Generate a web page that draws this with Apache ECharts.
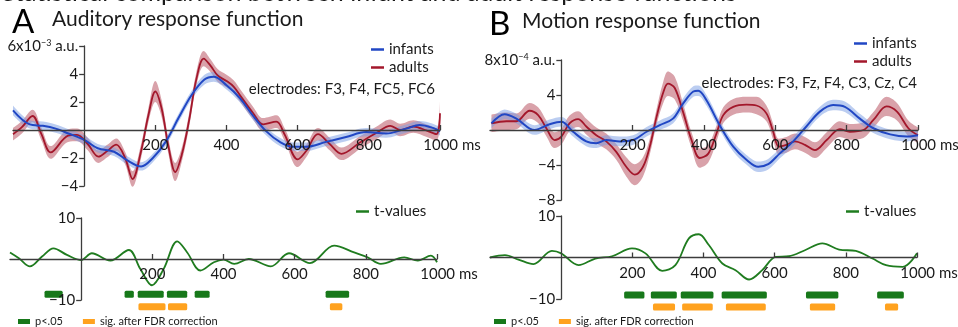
<!DOCTYPE html>
<html>
<head>
<meta charset="utf-8">
<title>Statistical comparison between infant and adult response functions</title>
<script src="https://cdn.jsdelivr.net/npm/echarts@6/dist/echarts.min.js"></script>
<style>
  html, body { margin: 0; padding: 0; background: #fff; }
  #chart { width: 958px; height: 327px; }
</style>
</head>
<body>
<div id="chart"></div>
<script>
// x tick labels (ms), shared by all panels
const msTicks = [200, 400, 600, 800, 1000]
const audTicks = [-4, -2, 2, 4, 6]
const motTicks = [-8, -4, 4, 8]
const tTicks = [-10, 10]

// A: auditory response function, adults (x10^-3 a.u.)
const audAdultMs = [-200, -175, -145, -120, -94, -45, -20, 10, 40, 65, 90, 115, 136, 160, 180, 200, 218, 237, 256, 275, 295, 315, 336, 355, 375, 400, 420, 440, 475, 503, 540, 563, 600, 624, 657, 690, 723, 775, 822, 860, 888, 925, 963, 990, 1000]
const audAdultVal = [-0.3, 0.2, 1.0, -0.3, -1.6, -0.4, -0.35, -1.0, -1.9, -1.5, -1.05, -2.0, -3.5, -1.5, 1.0, 2.75, 1.5, -1.2, -3.0, -1.7, 0.7, 3.6, 5.1, 4.6, 3.9, 3.5, 3.1, 2.4, 1.2, 0.4, 0.6, -0.3, -2.1, -1.5, -0.3, -1.0, -1.7, -0.9, -0.2, 0.3, 0.0, 0.25, -0.05, -0.3, 1.2]
const audAdultSe = [0.45, 0.45, 0.45, 0.45, 0.45, 0.45, 0.45, 0.45, 0.45, 0.45, 0.45, 0.45, 0.55, 0.5, 0.5, 0.75, 0.6, 0.55, 0.65, 0.5, 0.5, 0.5, 0.55, 0.45, 0.45, 0.45, 0.45, 0.45, 0.45, 0.45, 0.45, 0.45, 0.55, 0.45, 0.45, 0.45, 0.45, 0.45, 0.45, 0.45, 0.45, 0.45, 0.45, 0.45, 0.9]

// A: infants
const audInfMs = [-200, -153, -116, -80, -44, 0, 38, 84, 120, 160, 193, 229, 265, 302, 338, 364, 400, 437, 475, 512, 550, 587, 624, 680, 736, 792, 848, 905, 942, 980, 1000]
const audInfVal = [1.4, 0.4, 0.3, 0.1, -0.25, -0.7, -1.3, -1.55, -2.15, -2.6, -2.0, -0.85, 0.85, 2.5, 3.6, 3.8, 3.2, 2.3, 1.0, -0.1, -0.85, -1.2, -1.2, -0.85, -0.5, -0.15, -0.25, 0.1, 0.35, 0.15, -0.1]
const audInfSe = [0.35, 0.3, 0.3, 0.3, 0.3, 0.3, 0.3, 0.3, 0.3, 0.3, 0.3, 0.3, 0.3, 0.3, 0.35, 0.35, 0.3, 0.3, 0.3, 0.3, 0.3, 0.3, 0.3, 0.3, 0.3, 0.3, 0.3, 0.3, 0.3, 0.3, 0.3]

// A: t-values
const audTMs = [-200, -175, -144, -110, -78, -40, 0, 30, 82, 134, 166, 199, 232, 270, 298, 335, 373, 400, 430, 471, 533, 584, 643, 711, 767, 805, 842, 908, 946, 983, 1000]
const audTVal = [1.6, 0.2, -1.8, 0.6, 2.6, 1.0, -0.25, 1.4, -0.4, 2.2, -2.4, -6.4, -2.4, 4.3, 1.6, -2.8, -0.8, -0.15, -1.2, 0, -1.8, 1.4, -1.0, 3.25, 1.6, 0.4, -1.2, 0.4, -0.4, 0.8, -0.8]

// A: significant windows (ms)
const audSig = [[-103, -52], [122, 148], [159, 232], [241, 298], [319, 361], [687, 753]]
const audFdr = [[161, 237], [244, 298], [699, 734]]

// B: motion response function, adults (x10^-4 a.u.)
const motAdultMs = [-196, -154, -126, -89, -65, -42, -19, 0, 23, 47, 70, 98, 126, 154, 182, 206, 229, 248, 267, 285, 299, 318, 341, 365, 388, 412, 435, 454, 482, 519, 547, 575, 594, 610, 631, 655, 683, 711, 744, 781, 809, 847, 875, 912, 941, 973, 1000]
const motAdultVal = [0.75, 1.0, 1.0, 2.2, 1.7, 0.2, -1.15, -0.75, 0.75, 1.25, 0.4, -0.6, -1.3, -2.5, -4.2, -5.1, -4.2, -1.9, 1.5, 4.2, 5.3, 4.8, 2.1, -1.15, -3.2, -2.7, -0.4, 1.7, 2.65, 2.9, 2.8, 1.9, -0.2, -1.9, -1.7, -1.3, -1.7, -2.3, -1.15, 0.1, -0.2, 0.0, 1.15, 2.7, 2.1, 0.2, -0.6]
const motAdultSe = [1.0, 1.0, 0.9, 0.9, 0.9, 0.9, 0.9, 0.9, 0.9, 0.9, 0.9, 0.9, 0.9, 0.9, 1.1, 1.2, 1.1, 0.9, 0.9, 1.2, 1.4, 1.3, 1.0, 0.9, 1.1, 1.0, 0.9, 0.9, 0.9, 0.9, 1.0, 0.9, 0.9, 0.9, 0.9, 0.9, 0.9, 0.9, 0.9, 0.9, 0.9, 0.9, 0.9, 1.1, 1.0, 0.9, 0.9]

// B: infants
const motInfMs = [-196, -159, -126, -75, -33, 0, 33, 70, 98, 126, 164, 201, 239, 276, 313, 341, 370, 384, 407, 444, 482, 519, 552, 580, 612, 650, 687, 725, 762, 795, 837, 875, 922, 969, 1000]
const motInfVal = [0.75, 1.8, 1.3, 0, 0.65, 0.95, -0.2, -1.3, -1.5, -1.15, -1.3, -1.15, -0.2, 0.55, 1.3, 3.0, 4.4, 4.5, 3.4, 0.55, -1.9, -3.4, -4.2, -3.9, -2.7, -1.3, 0.4, 2.1, 2.85, 2.65, 1.3, 0.2, -0.5, -0.75, -0.6]
const motInfSe = [0.55, 0.55, 0.55, 0.55, 0.55, 0.55, 0.55, 0.55, 0.55, 0.55, 0.55, 0.55, 0.55, 0.55, 0.55, 0.6, 0.6, 0.6, 0.6, 0.55, 0.55, 0.55, 0.6, 0.6, 0.55, 0.55, 0.55, 0.55, 0.6, 0.6, 0.55, 0.55, 0.55, 0.55, 0.55]

// B: t-values
const motTMs = [-200, -158, -120, -78, -26, 0, 49, 96, 143, 199, 237, 284, 321, 359, 387, 415, 453, 490, 528, 565, 603, 640, 685, 734, 781, 828, 875, 913, 960, 1000]
const motTVal = [0, 0.55, -0.5, -1.6, 1.6, 1.0, -1.85, -0.25, 0.3, 2.2, 1.0, -3.2, -1.85, 4.6, 5.6, 3.0, -1.45, -3.05, -5.3, -3.05, 0.16, 0.3, 1.75, 3.4, 1.9, 1.6, -0.25, -1.85, -2.25, 1.0]

// B: significant windows (ms)
const motSig = [[177, 234], [252, 325], [336, 428], [451, 578], [688, 779], [888, 963]]
const motFdr = [[258, 320], [340, 426], [463, 575], [699, 770], [910, 947]]

const sigRows = ['sig. after FDR correction', 'p<.05']

const font = 'Lato, "Open Sans", sans-serif'
const axisColor = '#3c3c3c'
const textColor = '#1a1a1a'
const colors = {
  adults: '#a3172b',
  adultsBand: '#d9a2aa',
  infants: '#2147c4',
  infantsBand: 'rgba(120, 155, 228, 0.5)',
  t: '#1f7c1f',
  sig: '#17781a',
  fdr: '#ffa21f'
}

const msMin = -200
const msMax = 1000
const grids = [
  { left: 13, top: 46, width: 427, height: 140 },
  { left: 490, top: 60, width: 428, height: 140 },
  { left: 10, top: 218, width: 427, height: 82 },
  { left: 490, top: 216, width: 427, height: 83 },
  { left: 10, top: 288, width: 427, height: 25 },
  { left: 490, top: 289, width: 427, height: 24 }
]

function minus (v) {
  return v < 0 ? '\u2212' + Math.abs(v) : String(v)
}

function pairs (xs, ys) {
  return xs.map((x, i) => [x, ys[i]])
}

// axes cross at (0 ms, 0): shift them from the grid edges
function xAxisFor (gridIndex, yMin, yMax) {
  const g = grids[gridIndex]
  return {
    type: 'value',
    gridIndex: gridIndex,
    z: 10,
    min: msMin,
    max: msMax,
    position: 'bottom',
    offset: -g.height * (0 - yMin) / (yMax - yMin),
    axisLine: { onZero: false, lineStyle: { color: axisColor, width: 1.3 } },
    axisTick: { inside: true, length: 5, customValues: msTicks, lineStyle: { color: axisColor, width: 1.3 } },
    axisLabel: {
      customValues: msTicks,
      margin: 8,
      fontSize: 15,
      fontFamily: font,
      color: textColor,
      formatter: v => v === 1000 ? '{pad|}1000 ms' : String(v),
      rich: { pad: { width: 24 } }
    },
    splitLine: { show: false }
  }
}

function yAxisFor (gridIndex, min, max, ticks, unitLabel) {
  const g = grids[gridIndex]
  return {
    type: 'value',
    gridIndex: gridIndex,
    z: 10,
    min: min,
    max: max,
    position: 'left',
    offset: -g.width * (0 - msMin) / (msMax - msMin),
    axisLine: { onZero: false, lineStyle: { color: axisColor, width: 1.3 } },
    axisTick: { length: 5, customValues: ticks, lineStyle: { color: axisColor, width: 1.3 } },
    axisLabel: {
      customValues: ticks,
      margin: 6,
      fontSize: 15,
      fontFamily: font,
      color: textColor,
      formatter: v => (v === max && unitLabel) ? unitLabel : minus(v),
      rich: { s: { fontSize: 9, verticalAlign: 'top', fontFamily: font, color: textColor } }
    },
    splitLine: { show: false }
  }
}

function sigAxes (gridIndex) {
  return [
    { type: 'value', gridIndex: gridIndex, min: msMin, max: msMax, show: false },
    { type: 'category', gridIndex: gridIndex, data: sigRows, show: false }
  ]
}

// two stacked series: invisible lower edge + filled band thickness
// (value first so the stack runs on y)
function bandSeries (name, axisIndex, xs, ys, se, color) {
  const base = {
    type: 'line',
    xAxisIndex: axisIndex,
    yAxisIndex: axisIndex,
    stack: name,
    stackStrategy: 'all',
    smooth: 0.35,
    symbol: 'none',
    silent: true,
    encode: { x: 1, y: 0 },
    lineStyle: { opacity: 0 }
  }
  return [
    Object.assign({}, base, { name: name + ' lo', data: xs.map((x, i) => [ys[i] - se[i], x]) }),
    Object.assign({}, base, {
      name: name + ' hi',
      data: xs.map((x, i) => [2 * se[i], x]),
      areaStyle: { color: color, opacity: 1 }
    })
  ]
}

function lineSeries (name, axisIndex, xs, ys, color, width) {
  return {
    name: name,
    type: 'line',
    xAxisIndex: axisIndex,
    yAxisIndex: axisIndex,
    smooth: 0.35,
    symbol: 'none',
    data: pairs(xs, ys),
    itemStyle: { color: color },
    lineStyle: { color: color, width: width }
  }
}

function renderSig (params, api) {
  const start = api.coord([api.value(0), api.value(2)])
  const end = api.coord([api.value(1), api.value(2)])
  return {
    type: 'rect',
    shape: { x: start[0], y: start[1] - 3.5, width: end[0] - start[0], height: 7, r: 1.5 },
    style: { fill: api.visual('color') }
  }
}

function sigSeries (name, axisIndex, windows, color) {
  return {
    name: name,
    type: 'custom',
    xAxisIndex: axisIndex,
    yAxisIndex: axisIndex,
    renderItem: renderSig,
    encode: { x: [0, 1], y: 2 },
    itemStyle: { color: color },
    data: windows.map(w => [w[0], w[1], name])
  }
}

const legendText = { fontSize: 15, fontFamily: font, color: textColor }
const smallText = { fontSize: 11, fontFamily: font, color: textColor }

const chart = echarts.init(document.getElementById('chart'))
const option = {
  animation: false,
  backgroundColor: '#fff',
  grid: grids.map(g => Object.assign({ outerBoundsMode: 'none' }, g)),
  xAxis: [xAxisFor(0, -4, 6), xAxisFor(1, -8, 8), xAxisFor(2, -10, 10), xAxisFor(3, -10, 10), sigAxes(4)[0], sigAxes(5)[0]],
  yAxis: [
    yAxisFor(0, -4, 6, audTicks, '6x10{s|\u22123} a.u.'),
    yAxisFor(1, -8, 8, motTicks, '8x10{s|\u22124} a.u.'),
    yAxisFor(2, -10, 10, tTicks),
    yAxisFor(3, -10, 10, tTicks),
    sigAxes(4)[1],
    sigAxes(5)[1]
  ],
  legend: [
    { left: 366, top: 37, orient: 'vertical', itemGap: 3, icon: 'rect', itemWidth: 13, itemHeight: 2.5, textStyle: legendText, data: ['infants', 'adults'] },
    { left: 849, top: 31, orient: 'vertical', itemGap: 3, icon: 'rect', itemWidth: 13, itemHeight: 2.5, textStyle: legendText, data: ['infants', 'adults'] },
    { left: 351, top: 199, icon: 'rect', itemWidth: 13, itemHeight: 2.5, textStyle: legendText, data: ['t-values'] },
    { left: 841, top: 199, icon: 'rect', itemWidth: 13, itemHeight: 2.5, textStyle: legendText, data: ['t-values'] },
    { left: 13, top: 311, itemGap: 20, icon: 'rect', itemWidth: 12, itemHeight: 5, textStyle: smallText, data: ['p<.05', 'sig. after FDR correction'] },
    { left: 489, top: 311, itemGap: 20, icon: 'rect', itemWidth: 12, itemHeight: 5, textStyle: smallText, data: ['p<.05', 'sig. after FDR correction'] }
  ],
  graphic: [
    { type: 'text', z: 100, left: 2, top: -20, style: { text: 'Statistical comparison between infant and adult response functions', fontSize: 25, fontFamily: font, fill: textColor } },
    { type: 'text', z: 100, left: 12, top: 6, style: { text: 'A', fontSize: 33, fontFamily: font, fill: '#000' } },
    { type: 'text', z: 100, left: 52, top: 9, style: { text: 'Auditory response function', fontSize: 21, fontFamily: font, fill: textColor } },
    { type: 'text', z: 100, left: 489, top: 8, style: { text: 'B', fontSize: 33, fontFamily: font, fill: '#000' } },
    { type: 'text', z: 100, left: 522, top: 11, style: { text: 'Motion response function', fontSize: 21, fontFamily: font, fill: textColor } },
    { type: 'text', z: 100, right: 523, top: 82, style: { text: 'electrodes: F3, F4, FC5, FC6', fontSize: 15, fontFamily: font, fill: textColor } },
    { type: 'text', z: 100, right: 41, top: 76, style: { text: 'electrodes: F3, Fz, F4, C3, Cz, C4', fontSize: 15, fontFamily: font, fill: textColor } }
  ],
  series: [].concat(
    bandSeries('audAdultBand', 0, audAdultMs, audAdultVal, audAdultSe, colors.adultsBand),
    [lineSeries('adults', 0, audAdultMs, audAdultVal, colors.adults, 1.8)],
    bandSeries('audInfBand', 0, audInfMs, audInfVal, audInfSe, colors.infantsBand),
    [lineSeries('infants', 0, audInfMs, audInfVal, colors.infants, 2)],
    bandSeries('motAdultBand', 1, motAdultMs, motAdultVal, motAdultSe, colors.adultsBand),
    [lineSeries('adults', 1, motAdultMs, motAdultVal, colors.adults, 1.8)],
    bandSeries('motInfBand', 1, motInfMs, motInfVal, motInfSe, colors.infantsBand),
    [lineSeries('infants', 1, motInfMs, motInfVal, colors.infants, 2)],
    [lineSeries('t-values', 2, audTMs, audTVal, colors.t, 1.8)],
    [lineSeries('t-values', 3, motTMs, motTVal, colors.t, 1.8)],
    [sigSeries('p<.05', 4, audSig, colors.sig), sigSeries('sig. after FDR correction', 4, audFdr, colors.fdr)],
    [sigSeries('p<.05', 5, motSig, colors.sig), sigSeries('sig. after FDR correction', 5, motFdr, colors.fdr)]
  )
}
chart.setOption(option)
</script>
</body>
</html>
